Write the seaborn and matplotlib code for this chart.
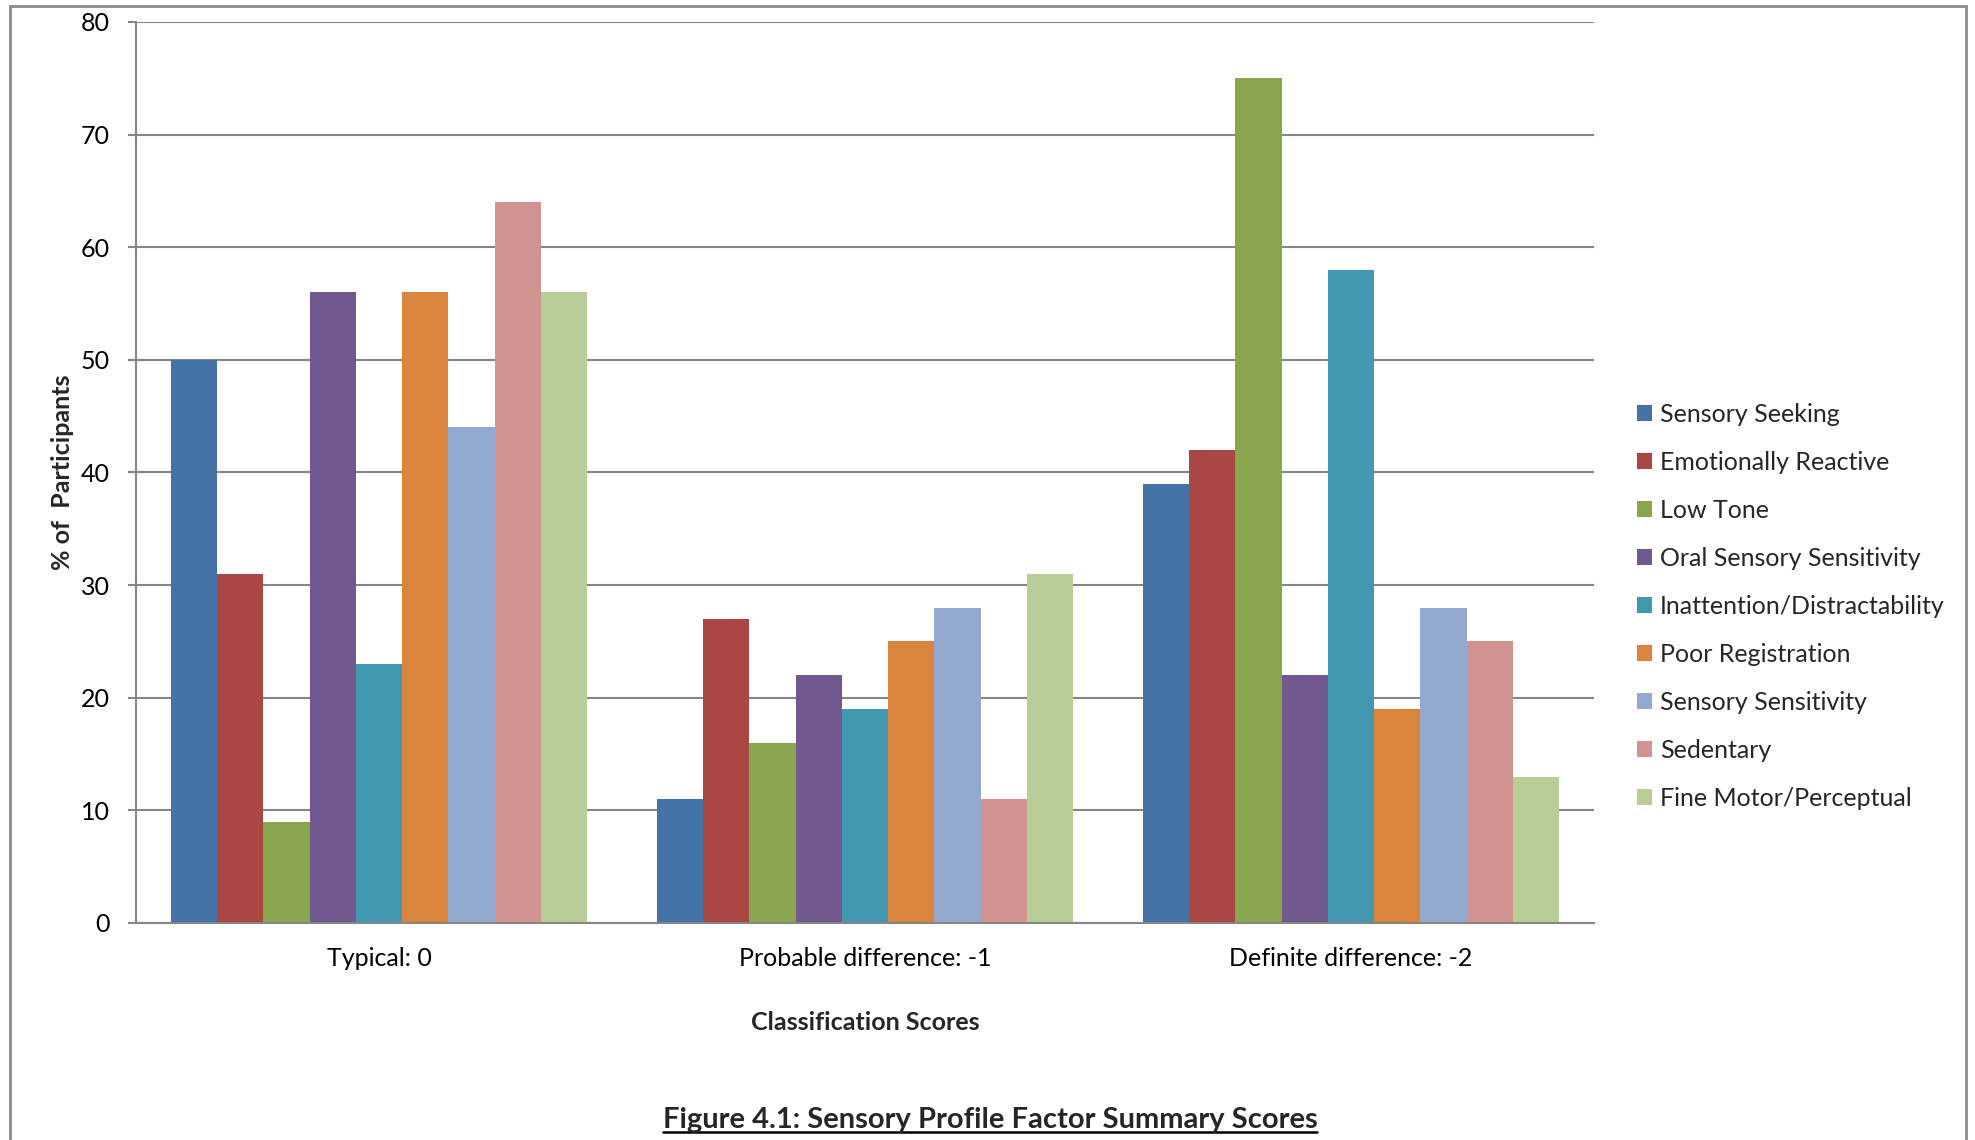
import matplotlib
matplotlib.use("Agg")
import matplotlib.pyplot as plt
from matplotlib.patches import Patch, Rectangle
from matplotlib.lines import Line2D
import seaborn as sns
import pandas as pd

# Classification groups on the x axis
categories = ["Typical: 0", "Probable difference: -1", "Definite difference: -2"]

# Sensory Profile factors (one bar per factor in each group)
factors = [
    "Sensory Seeking",
    "Emotionally Reactive",
    "Low Tone",
    "Oral Sensory Sensitivity",
    "Inattention/Distractability",
    "Poor Registration",
    "Sensory Sensitivity",
    "Sedentary",
    "Fine Motor/Perceptual",
]

# % of participants per factor, for each classification group
typical = [50, 31, 9, 56, 23, 56, 44, 64, 56]
probable = [11, 27, 16, 22, 19, 25, 28, 11, 31]
definite = [39, 42, 75, 22, 58, 19, 28, 25, 13]

colors = ["#4572A7", "#AA4643", "#89A54E", "#71588F", "#4198AF",
          "#DB843D", "#93A9CF", "#D19392", "#B9CD96"]

rows = []
for cat, vals in zip(categories, [typical, probable, definite]):
    for f, v in zip(factors, vals):
        rows.append({"group": cat, "factor": f, "pct": v})
df = pd.DataFrame(rows)

sns.set_theme(style="white")
plt.rcParams["font.family"] = ["Lato", "DejaVu Sans"]

FS = 18
fig = plt.figure(figsize=(19.75, 11.4), dpi=100)
ax = fig.add_axes([0.0689, 0.1904, 0.7382, 0.7904])

sns.barplot(data=df, x="group", y="pct", hue="factor", order=categories,
            hue_order=factors, palette=colors, saturation=1, width=0.857,
            gap=0, linewidth=0, ax=ax, legend=False)

grid_c = "#868686"
ax.set_ylim(0, 80)
ax.set_yticks(range(0, 81, 10))
ax.yaxis.grid(True, color=grid_c, linewidth=1.5)
ax.set_axisbelow(True)
for s in ["top", "right"]:
    ax.spines[s].set_visible(False)
for s in ["left", "bottom"]:
    ax.spines[s].set_color(grid_c)
    ax.spines[s].set_linewidth(1.5)
ax.tick_params(axis="y", which="major", left=True, length=6, width=1.5,
               color=grid_c, pad=13, labelsize=FS, labelcolor="black")
ax.tick_params(axis="x", bottom=False, pad=11, labelsize=FS, labelcolor="black")

ax.set_xlabel("Classification Scores", fontsize=FS, fontweight="bold", labelpad=30)
ax.set_ylabel("% of  Participants", fontsize=FS, fontweight="bold", labelpad=5)

handles = [Patch(facecolor=c, edgecolor="none", label=f) for c, f in zip(colors, factors)]
fig.legend(handles=handles, loc="center left", bbox_to_anchor=(0.829, 0.468),
           frameon=False, fontsize=FS, handlelength=0.6, handleheight=0.6,
           handletextpad=0.3, labelspacing=1.0, borderpad=0, borderaxespad=0)

# outer chart frame (open at the bottom edge)
frame = Rectangle((10 / 1975, -0.05), (1966 - 10) / 1975, 1.05 - 6 / 1140,
                  transform=fig.transFigure, fill=False, edgecolor="#8c8c8c",
                  linewidth=2, clip_on=False)
fig.add_artist(frame)

# underlined figure caption
title = fig.text(990 / 1975, 1 - 1120 / 1140, "Figure 4.1: Sensory Profile Factor Summary Scores",
                 ha="center", va="center", fontsize=21, fontweight="bold")
fig.canvas.draw()
bb = title.get_window_extent().transformed(fig.transFigure.inverted())
fig.add_artist(Line2D([bb.x0, bb.x1], [bb.y0 + 0.001, bb.y0 + 0.001],
                      transform=fig.transFigure, color="black", linewidth=1.8))

fig.savefig("out.png", dpi=100)
